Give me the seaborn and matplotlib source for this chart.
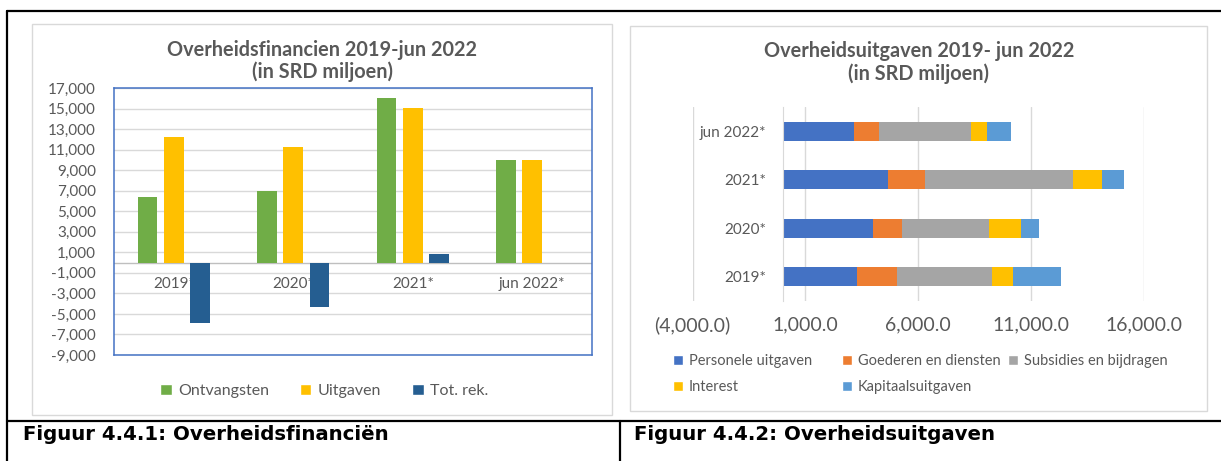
import matplotlib
matplotlib.use("Agg")
import matplotlib.pyplot as plt
from matplotlib.lines import Line2D
from matplotlib.patches import Patch, Rectangle
import numpy as np
import pandas as pd
import seaborn as sns

# Figuur 4.4.1 - Overheidsfinancien (SRD miljoen)
years = ["2019*", "2020*", "2021*", "jun 2022*"]
ontvangsten = [6400, 7000, 16000, 10000]
uitgaven = [12200, 11300, 15100, 10000]
tot_rek = [-5900, -4300, 850, -60]
fin_series = ["Ontvangsten", "Uitgaven", "Tot. rek."]
fin_colors = ["#70AD47", "#FFC000", "#255E91"]

# Figuur 4.4.2 - Overheidsuitgaven (SRD miljoen), top to bottom
exp_years = ["jun 2022*", "2021*", "2020*", "2019*"]
personele = [3140, 4680, 4000, 3270]
goederen = [1120, 1640, 1290, 1810]
subsidies = [4060, 6550, 3850, 4180]
interest = [740, 1290, 1410, 960]
kapitaal = [1030, 940, 820, 2100]
exp_series = ["Personele uitgaven", "Goederen en diensten",
              "Subsidies en bijdragen", "Interest", "Kapitaalsuitgaven"]
exp_colors = ["#4472C4", "#ED7D31", "#A5A5A5", "#FFC000", "#5B9BD5"]

W, H = 1221, 461
TEXT = "#595959"
GRID = "#D9D9D9"


def fx(px):
    return px / W


def fy(py):
    return 1 - py / H


sns.set_style("white")
plt.rcParams["font.family"] = ["Lato", "DejaVu Sans"]

fig = plt.figure(figsize=(W / 100, H / 100), dpi=100)

# table borders around the two figures
for x0, y0, x1, y1 in [(7, 11, W, 11), (7, 11, 7, H), (7, 421, W, 421), (620, 421, 620, H)]:
    fig.add_artist(Line2D([fx(x0), fx(x1)], [fy(y0), fy(y1)], color="black",
                          lw=1.6, transform=fig.transFigure))
for x0, y0, x1, y1 in [(32, 24, 612, 415), (630, 26, 1207, 411)]:
    fig.add_artist(Rectangle((fx(x0), fy(y1)), (x1 - x0) / W, (y1 - y0) / H, fill=False,
                             edgecolor=GRID, lw=1, transform=fig.transFigure))

# ---- left: grouped bars ----
ax1 = fig.add_axes([fx(114), fy(355), (592 - 114) / W, (355 - 88) / H])
fin = pd.DataFrame({
    "jaar": years * 3,
    "reeks": np.repeat(fin_series, len(years)),
    "waarde": ontvangsten + uitgaven + tot_rek,
})
sns.barplot(data=fin, x="jaar", y="waarde", hue="reeks", order=years,
            hue_order=fin_series, palette=fin_colors, saturation=1,
            width=0.66, gap=0.245, linewidth=0, errorbar=None, legend=False, ax=ax1)
ax1.set_ylim(-9000, 17000)
ticks = np.arange(-9000, 17001, 2000)
ax1.set_yticks(ticks, [f"{t:,}" for t in ticks])
ax1.set_xticks([])
ax1.set_xlabel("")
ax1.set_ylabel("")
ax1.grid(axis="y", color=GRID, lw=1)
ax1.set_axisbelow(True)
ax1.axhline(0, color="#BFBFBF", lw=1, zorder=0.9)
ax1.tick_params(axis="y", labelsize=11, colors=TEXT, length=0, pad=13)
for s in ax1.spines.values():
    s.set_color("#4472C4")
    s.set_linewidth(1.1)
for i, lbl in enumerate(years):
    ax1.annotate(lbl, (i, 0), xytext=(0, -21), textcoords="offset pixels",
                 ha="center", va="center", fontsize=11, color=TEXT, zorder=0.95)

fig.text(fx(322), fy(50), "Overheidsfinancien 2019-jun 2022", ha="center", va="center",
         fontsize=14.3, fontweight="bold", color=TEXT)
fig.text(fx(322), fy(72), "(in SRD miljoen)", ha="center", va="center",
         fontsize=14.3, fontweight="bold", color=TEXT)
fig.legend([Patch(facecolor=c) for c in fin_colors], fin_series, loc="center",
           bbox_to_anchor=(fx(324), fy(391)), ncol=3, frameon=False,
           handlelength=0.75, handleheight=0.75, handletextpad=0.4,
           columnspacing=1.9, fontsize=11.5, labelcolor=TEXT, borderpad=0)

# ---- right: stacked horizontal bars ----
ax2 = fig.add_axes([fx(692.6), fy(301), (1143.9 - 692.6) / W, 194 / H])
exp = pd.DataFrame({"jaar": exp_years, "Personele uitgaven": personele,
                    "Goederen en diensten": goederen, "Subsidies en bijdragen": subsidies,
                    "Interest": interest, "Kapitaalsuitgaven": kapitaal})
cum = exp[exp_series].cumsum(axis=1)
cum["jaar"] = exp["jaar"]
for name, color in reversed(list(zip(exp_series, exp_colors))):
    sns.barplot(data=cum, x=name, y="jaar", order=exp_years, orient="h", color=color,
                saturation=1, width=0.385, linewidth=0, errorbar=None, ax=ax2)
ax2.set_xlim(-4000, 16000)
xt = [-4000, 1000, 6000, 11000, 16000]
ax2.set_xticks(xt, [f"({abs(v):,.1f})" if v < 0 else f"{v:,.1f}" for v in xt])
ax2.set_ylim(3.5, -0.5)
ax2.set_xlabel("")
ax2.set_ylabel("")
ax2.grid(axis="x", color=GRID, lw=1)
ax2.set_axisbelow(True)
for side in ["top", "right", "bottom"]:
    ax2.spines[side].set_visible(False)
ax2.spines["left"].set_position(("data", 0))
ax2.spines["left"].set_color(GRID)
ax2.tick_params(axis="y", labelsize=11, colors=TEXT, length=0, pad=12)
ax2.tick_params(axis="x", labelsize=14, colors=TEXT, length=0, pad=11)

fig.text(fx(919), fy(51), "Overheidsuitgaven 2019- jun 2022", ha="center", va="center",
         fontsize=14.3, fontweight="bold", color=TEXT)
fig.text(fx(919), fy(74), "(in SRD miljoen)", ha="center", va="center",
         fontsize=14.3, fontweight="bold", color=TEXT)

# Excel legend uses fixed-width columns, so place each column on its own
columns = [(673, [0, 3]), (842, [1, 4]), (1008, [2])]
for x, idx in columns:
    fig.legend([Patch(facecolor=exp_colors[i]) for i in idx], [exp_series[i] for i in idx],
               loc="upper left", bbox_to_anchor=(fx(x), fy(354)), frameon=False,
               handlelength=0.7, handleheight=0.7, handletextpad=0.4,
               labelspacing=0.85, fontsize=10.5, labelcolor=TEXT, borderpad=0,
               borderaxespad=0)

# captions
for x, cap in [(23, "Figuur 4.4.1: Overheidsfinanciën"), (634, "Figuur 4.4.2: Overheidsuitgaven")]:
    fig.text(fx(x), fy(434), cap, ha="left", va="center", fontsize=14.2,
             fontweight="bold", family="DejaVu Sans", color="black")

fig.savefig("out.png", dpi=100)
